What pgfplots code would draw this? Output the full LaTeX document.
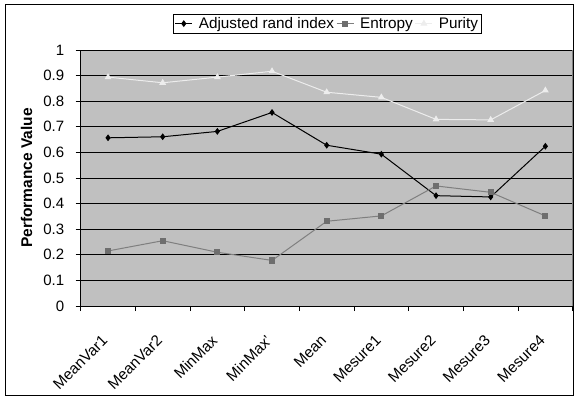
\documentclass[border=0pt]{standalone}
\usepackage{pgfplots}
\pgfplotsset{compat=1.18}
\usepackage{fontspec}
\setmainfont{Liberation Sans}
\definecolor{bggray}{HTML}{C0C0C0}
\definecolor{entc}{HTML}{6E6E6E}
\definecolor{entl}{HTML}{7F7F7F}
\definecolor{purc}{HTML}{EDEDED}
\begin{document}
\begin{tikzpicture}[x=1pt,y=1pt]
\useasboundingbox (0,0) rectangle (575,397);
\draw[black, line width=1pt] (5.7,1.5) rectangle (573.5,392);
\begin{axis}[
  at={(80.7pt,91pt)}, anchor=south west,
  scale only axis, width=492pt, height=256pt,
  xmin=0.5, xmax=9.5, ymin=0, ymax=1,
  axis lines=left, axis line style={-, line width=1pt},
  axis background/.style={fill=bggray},
  ytick={0,0.1,0.2,0.3,0.4,0.5,0.6,0.7,0.8,0.9,1},
  yticklabels={0,0.1,0.2,0.3,0.4,0.5,0.6,0.7,0.8,0.9,1},
  ymajorgrids, grid style={black, line width=0.9pt},
  xtick={1,...,9},
  xticklabels={MeanVar1,MeanVar2,MinMax,MinMax',Mean,Mesure1,Mesure2,Mesure3,Mesure4},
  major x tick style={draw=none},
  minor xtick={0.5,1.5,2.5,3.5,4.5,5.5,6.5,7.5,8.5,9.5},
  tick align=outside, major tick length=5pt, minor tick length=5pt,
  tick style={black, line width=0.9pt},
  xticklabel style={xshift=-7pt, yshift=-18pt, rotate=45, anchor=north east, font=\fontsize{15.3}{17}\selectfont},
  yticklabel style={font=\fontsize{15}{17}\selectfont, xshift=-8pt},
  ylabel={\bfseries Performance Value},
  ylabel style={font=\fontsize{15.5}{17}\selectfont, at={(axis description cs:-0.1098,0.5)}, anchor=center},
  /pgf/number format/assume math mode=true,
  legend columns=3,
  legend style={at={(0.5014,1.103)}, anchor=center, draw=black, line width=0.8pt,
    font=\fontsize{15.3}{17}\selectfont, inner sep=1pt,
    /tikz/every odd column/.append style={column sep=4pt}},
  legend image post style={line width=1pt},
  clip=false,
]
\addplot[black, line width=1pt, mark=diamond*, mark size=2.6pt, mark options={fill=black}]
  coordinates {(1,0.657) (2,0.661) (3,0.682) (4,0.756) (5,0.628) (6,0.593) (7,0.431) (8,0.426) (9,0.624)};
\addlegendentry{Adjusted rand index}
\addplot[entl, line width=1pt, mark=square*, mark size=2.6pt, mark options={fill=entc, draw=entc}]
  coordinates {(1,0.215) (2,0.255) (3,0.210) (4,0.178) (5,0.331) (6,0.352) (7,0.469) (8,0.444) (9,0.352)};
\addlegendentry{Entropy}
\addplot[purc, line width=1pt, mark=triangle*, mark size=3pt, mark options={fill=purc, draw=purc}]
  coordinates {(1,0.894) (2,0.872) (3,0.894) (4,0.917) (5,0.835) (6,0.815) (7,0.729) (8,0.727) (9,0.842)};
\addlegendentry{Purity}
\draw[gray, line width=0.8pt] (rel axis cs:1,0) -- (rel axis cs:1,1);
\end{axis}
\end{tikzpicture}
\end{document}
